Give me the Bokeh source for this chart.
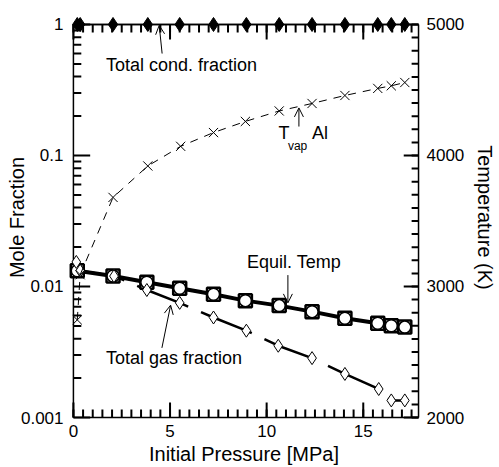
import math
from bokeh.plotting import figure
from bokeh.models import (Range1d, LinearAxis, LogAxis, LinearScale, FixedTicker,
                          Label, Arrow, OpenHead, CustomJSTickFormatter)
from bokeh.embed import file_html
from bokeh.resources import INLINE

# ---------------- data ----------------
cond_p = [0.2, 0.35, 2.05, 3.85, 5.5, 7.25, 8.95, 10.65, 12.35, 14.05, 15.75, 16.45, 17.15]
cond_frac = [1.0, 1.0, 1.0, 1.0, 1.0, 1.0, 1.0, 1.0, 1.0, 1.0, 1.0, 1.0, 1.0]

tvap_p = [0.2, 0.35, 2.05, 3.85, 5.55, 7.25, 8.9, 10.65, 12.35, 14.05, 15.75, 16.45, 17.15]
tvap_T = [2745, 3090, 3680, 3920, 4070, 4175, 4260, 4340, 4397, 4458, 4512, 4532, 4557]

equil_p = [0.2, 2.05, 3.8, 5.5, 7.25, 8.9, 10.65, 12.35, 14.05, 15.75, 16.45, 17.15]
equil_T = [3120, 3080, 3032, 2986, 2941, 2892, 2854, 2808, 2758, 2720, 2700, 2690]

gas_p = [0.15, 0.35, 2.1, 3.8, 5.5, 7.25, 8.95, 10.6, 12.35, 14.05, 15.8, 16.45, 17.15]
gas_frac = [0.0154, 0.0132, 0.0120, 0.0094, 0.0075, 0.0058, 0.0046, 0.00353,
            0.00284, 0.00215, 0.00165, 0.00135, 0.00135]

x_ticks = [0, 5, 10, 15]
x_minor = [i * 0.5 for i in range(36)]
y_ticks = [0.001, 0.01, 0.1, 1]
y_minor = [k * d for d in (0.001, 0.01, 0.1) for k in range(2, 10)]
t_ticks = [2000, 3000, 4000, 5000]
t_minor = [2000 + i * 100 for i in range(31)]

# ---------------- axes box (data limits) ----------------
X0, X1 = 0.0, 17.86          # pressure axis limits
Y0, Y1 = 0.001, 1.0          # mole fraction axis limits
T0, T1 = 2000.0, 5000.0      # temperature axis limits (aligned with mole-fraction decades)

# layout (pixels)
W, H = 499, 467
B_LEFT, B_RIGHT, B_TOP, B_BOTTOM = 67, 74, 15, 47
FW = W - B_LEFT - B_RIGHT
FH = H - B_TOP - B_BOTTOM
pad_l, pad_r, pad_t, pad_b = 6.0, 2.0, 9.0, 2.0   # room round the box inside the frame
px_per_x = (FW - pad_l - pad_r) / (X1 - X0)
px_per_dec = (FH - pad_t - pad_b) / (math.log10(Y1) - math.log10(Y0))

xr = Range1d(X0 - pad_l / px_per_x, X1 + pad_r / px_per_x)
ylo = 10 ** (math.log10(Y0) - pad_b / px_per_dec)
yhi = 10 ** (math.log10(Y1) + pad_t / px_per_dec)
yr = Range1d(ylo, yhi)
per_dec_T = (T1 - T0) / (math.log10(Y1) - math.log10(Y0))
tr = Range1d(T0 + per_dec_T * (math.log10(ylo) - math.log10(Y0)),
             T0 + per_dec_T * (math.log10(yhi) - math.log10(Y0)))

FONT = "Liberation Sans"

p = figure(width=W, height=H, output_backend="svg", toolbar_location=None,
           x_range=xr, y_range=yr, y_axis_type="log",
           min_border_left=B_LEFT, min_border_right=B_RIGHT,
           min_border_top=B_TOP, min_border_bottom=B_BOTTOM,
           x_axis_location=None, y_axis_location=None)
p.extra_y_ranges = {"temp": tr}
p.extra_y_scales = {"temp": LinearScale()}
p.outline_line_color = None
p.xgrid.visible = False
p.ygrid.visible = False
p.background_fill_color = "white"
p.border_fill_color = "white"


def style_axis(ax, standoff, label, label_standoff):
    ax.axis_line_color = None
    ax.major_tick_line_color = None
    ax.minor_tick_line_color = None
    ax.major_tick_in = 0
    ax.major_tick_out = 0
    ax.minor_tick_in = 0
    ax.minor_tick_out = 0
    ax.major_label_standoff = standoff
    ax.major_label_text_font = FONT
    ax.major_label_text_font_size = "17px"
    ax.major_label_text_color = "black"
    ax.axis_label = label
    ax.axis_label_text_font = FONT
    ax.axis_label_text_font_size = "20px"
    ax.axis_label_text_font_style = "normal"
    ax.axis_label_text_color = "black"
    ax.axis_label_standoff = label_standoff


left = LogAxis(ticker=FixedTicker(ticks=y_ticks),
               formatter=CustomJSTickFormatter(code="return Number(tick.toPrecision(3)).toString()"))
style_axis(left, 4, "Mole Fraction", -10)
p.add_layout(left, "left")

bottom = LinearAxis(ticker=FixedTicker(ticks=x_ticks))
style_axis(bottom, 5, "Initial Pressure [MPa]", 3)
p.add_layout(bottom, "below")

right = LinearAxis(y_range_name="temp", ticker=FixedTicker(ticks=t_ticks))
style_axis(right, 6, "Temperature (K)", 7)
p.add_layout(right, "right")

# ---------------- box ----------------
p.segment(x0=[X0, X1, X0, X0], y0=[Y0, Y0, Y0, Y1], x1=[X0, X1, X1, X1], y1=[Y1, Y1, Y0, Y1],
          line_color="black", line_width=1.5)

# ---------------- inward ticks ----------------
tx0, ty0, tx1, ty1 = [], [], [], []


def t_to_y(t):
    return 10 ** (math.log10(Y0) + (t - T0) / per_dec_T)


def add_h(vals, edge, length, direction):
    for v in vals:
        tx0.append(edge); ty0.append(v)
        tx1.append(edge + direction * length / px_per_x); ty1.append(v)


def add_v(vals, edge, length, direction):
    for v in vals:
        tx0.append(v); ty0.append(edge)
        tx1.append(v); ty1.append(edge * 10 ** (direction * length / px_per_dec))


add_h(y_ticks, X0, 17, 1)
add_h(y_minor, X0, 8, 1)
add_h([t_to_y(t) for t in t_ticks], X1, 15, -1)
add_h([t_to_y(t) for t in t_minor], X1, 7, -1)
add_v(x_ticks, Y0, 15, 1)
add_v(x_minor, Y0, 8, 1)
add_v(x_ticks, Y1, 15, -1)
add_v(x_minor, Y1, 8, -1)

p.segment(x0=tx0, y0=ty0, x1=tx1, y1=ty1, line_color="black", line_width=2)

# ---------------- series ----------------
# total gas fraction (thick dashed)
p.line(gas_p, gas_frac, line_color="black", line_width=2.5, line_dash="55 14")

# equilibrium temperature (thick solid, squares + circles)
p.line(equil_p, equil_T, y_range_name="temp", line_color="black", line_width=4)
p.scatter(equil_p, equil_T, y_range_name="temp", marker="square", size=13,
          fill_color="white", line_color="black", line_width=2.5)
p.scatter(equil_p, equil_T, y_range_name="temp", marker="circle", size=12,
          fill_color="white", line_color="black", line_width=1.5)

p.scatter(gas_p, gas_frac, marker="diamond", size=13, fill_color="white",
          line_color="black", line_width=1)

# vaporization temperature of Al (thin dashed, crosses)
p.line(tvap_p, tvap_T, y_range_name="temp", line_color="black", line_width=1,
       line_dash="8 7")
p.scatter(tvap_p, tvap_T, y_range_name="temp", marker="x", size=13,
          line_color="black", line_width=1)

# total condensed fraction (filled diamonds)
p.line(cond_p, cond_frac, line_color="black", line_width=1.5)
p.scatter(cond_p, cond_frac, marker="diamond", size=14, fill_color="black",
          line_color="black", line_width=1)

# ---------------- annotations ----------------
def lab(x, y, text, size="18px", rng="default", align="left"):
    p.add_layout(Label(x=x, y=y, text=text, y_range_name=rng, text_font=FONT,
                       text_font_size=size, text_color="black", text_align=align,
                       text_baseline="middle"))


def arrow(x0, y0, x1, y1, rng="default"):
    p.add_layout(Arrow(end=OpenHead(size=9, line_width=1, line_color="black"),
                       x_start=x0, y_start=y0, x_end=x1, y_end=y1,
                       y_range_name=rng, line_color="black", line_width=1))


lab(1.68, 0.49, "Total cond. fraction")
arrow(4.59, 0.6, 4.44, 0.985)

lab(10.61, 4170, "T", rng="temp")
lab(11.1, 4075, "vap", size="12px", rng="temp")
lab(12.35, 4170, "Al", rng="temp")
arrow(11.67, 4221, 11.67, 4363, rng="temp")

lab(8.98, 3190, "Equil. Temp", rng="temp")
arrow(11.1, 3087, 11.1, 2875, rng="temp")

lab(1.68, 0.00284, "Total gas fraction")
arrow(4.58, 0.0034, 5.03, 0.0072)

open("out.html", "w").write(file_html(p, INLINE))
